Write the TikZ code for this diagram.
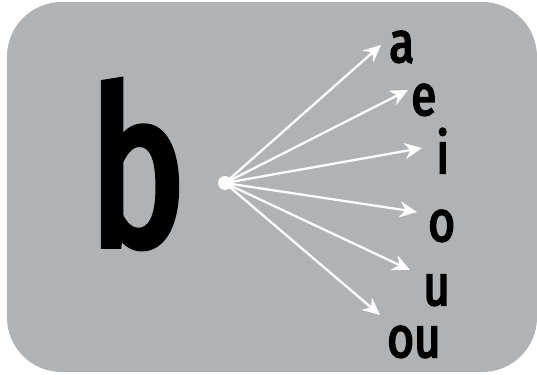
\documentclass[tikz,border=0pt]{standalone}
\usepackage{fontspec}
\setmainfont[FakeStretch=0.78]{Fira Sans}
\newfontfamily\medfont[FakeStretch=0.8,FakeBold=3.5]{Fira Sans}
\newfontfamily\bigfont[FakeStretch=0.74,FakeBold=3.5]{Fira Sans}
\usepackage{tikz}
\usetikzlibrary{positioning,arrows.meta,calc}
\definecolor{PanelGrey}{RGB}{176,179,182}
\begin{document}
\begin{tikzpicture}[
x=0.75pt,y=-0.75pt,
panel/.style={fill=PanelGrey,rounded corners=41pt},
big/.style={inner sep=0pt,anchor=base west,font=\fontsize{164}{164}\bigfont},
vowel/.style={inner sep=0pt,anchor=base west,text height=1ex,text depth=0pt,font=\fontsize{43}{43}\medfont},
hub/.style={circle,fill=white,minimum size=10.5pt,inner sep=0pt},
arrow/.style={-{Stealth[length=13pt,width=12pt]},line width=1.7pt,draw=white}
]
\useasboundingbox (0,0) rectangle (537,375);
\fill[panel] (7,2) rectangle (537,372);
\node[big] (cons) at (89,245) {b};
\node[hub] (src) at (225,183) {};
% arrow tips
\coordinate (ta) at (381,45);
\coordinate (te) at (408,90);
\coordinate (ti) at (422,148);
\coordinate (to) at (417,212);
\coordinate (tu) at (410,270);
\coordinate (tou) at (380,315);
% vowels
\node[vowel] (la) at (389,62) {a};
\node[vowel] (le) at (411,115) {e};
\node[vowel] (li) at (436,173) {i};
\node[vowel] (lo) at (428,241) {o};
\node[vowel] (lu) at (423,305) {u};
\node[vowel] (lou) at (387,357) {ou};
\draw[arrow] (src.center)--(ta); \draw[arrow] (src.center)--(te); \draw[arrow] (src.center)--(ti);
\draw[arrow] (src.center)--(to); \draw[arrow] (src.center)--(tu); \draw[arrow] (src.center)--(tou);
\end{tikzpicture}
\end{document}
